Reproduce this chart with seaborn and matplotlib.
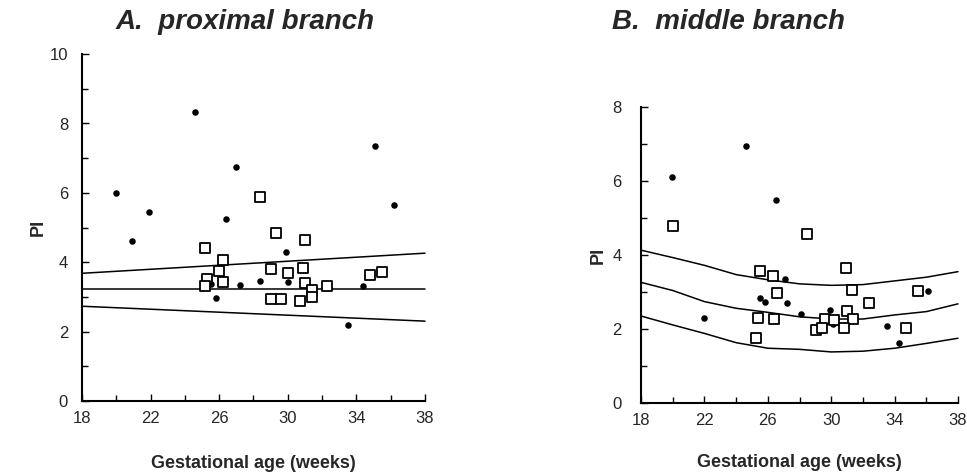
import numpy as np
import pandas as pd
import seaborn as sns
import matplotlib.pyplot as plt
from matplotlib.ticker import FixedLocator

# --- données ---
# A. branche proximale : points pleins
a_dot_x = [20.0, 20.9, 21.9, 24.6, 27.0, 26.4, 29.9, 36.2, 28.4, 30.0, 27.2, 25.5, 25.8, 33.5, 34.4, 35.1]
a_dot_y = [6.0, 4.6, 5.45, 8.33, 6.74, 5.25, 4.3, 5.66, 3.47, 3.42, 3.34, 3.37, 2.98, 2.19, 3.3, 7.35]
# A. carrés vides
a_sq_x = [28.4, 29.3, 31.0, 25.2, 26.2, 26.0, 29.0, 30.0, 30.9, 34.8, 35.5, 25.3, 25.15,
          26.2, 31.0, 31.4, 31.4, 32.3, 29.0, 29.6, 30.7]
a_sq_y = [5.87, 4.85, 4.63, 4.41, 4.05, 3.75, 3.79, 3.7, 3.83, 3.63, 3.72, 3.52, 3.31,
          3.43, 3.41, 3.21, 3.0, 3.32, 2.95, 2.95, 2.87]
# A. droites de référence (aux semaines 18 et 38)
a_line_x = [18, 38]
a_upper = [3.68, 4.26]
a_mid = [3.24, 3.24]
a_lower = [2.73, 2.3]

# B. branche moyenne : points pleins
b_dot_x = [19.95, 24.6, 26.5, 21.95, 27.1, 25.5, 25.8, 27.2, 28.1, 29.9, 30.1, 31.4, 33.5, 34.3, 36.1]
b_dot_y = [6.12, 6.95, 5.5, 2.31, 3.35, 2.85, 2.72, 2.7, 2.4, 2.52, 2.13, 2.31, 2.08, 1.63, 3.03]
# B. carrés vides
b_sq_x = [20.0, 28.5, 30.9, 25.5, 26.3, 26.6, 31.3, 32.4, 35.5, 25.4, 26.4, 25.25,
          31.0, 31.4, 29.6, 30.15, 29.05, 29.4, 30.8, 34.7]
b_sq_y = [4.78, 4.58, 3.64, 3.58, 3.43, 2.97, 3.06, 2.69, 3.03, 2.31, 2.27, 1.76,
          2.49, 2.26, 2.26, 2.24, 1.97, 2.03, 2.03, 2.04]
# B. courbes de référence
b_curve_x = [18, 20, 22, 24, 26, 28, 30, 32, 34, 36, 38]
b_upper = [4.13, 3.93, 3.72, 3.47, 3.33, 3.22, 3.18, 3.2, 3.3, 3.4, 3.55]
b_mid = [3.26, 3.04, 2.74, 2.56, 2.45, 2.33, 2.27, 2.27, 2.38, 2.47, 2.68]
b_lower = [2.35, 2.11, 1.88, 1.63, 1.48, 1.45, 1.38, 1.40, 1.48, 1.61, 1.75]

# graduations
x_major = [18, 22, 26, 30, 34, 38]
x_minor = [20, 24, 28, 32, 36]

sns.set_style("ticks")
plt.rcParams["font.family"] = ["Liberation Sans", "DejaVu Sans"]

fig = plt.figure(figsize=(9.67, 4.75), dpi=100)
ax1 = fig.add_axes([0.0848, 0.156, 0.3547, 0.730])
ax2 = fig.add_axes([0.663, 0.1516, 0.3277, 0.6231])


def draw_panel(ax, dx, dy, sx, sy, lx, lines, ymax):
    for ly in lines:
        sns.lineplot(x=lx, y=ly, ax=ax, color="black", lw=1.1, clip_on=False)
    sns.scatterplot(x=dx, y=dy, ax=ax, marker="o", s=22, color="black",
                    edgecolor="black", linewidth=0, clip_on=False, zorder=3)
    sns.scatterplot(x=sx, y=sy, ax=ax, marker="s", s=60, facecolor="white",
                    edgecolor="black", linewidth=1.3, clip_on=False, zorder=4)
    ax.set_xlim(18, 38)
    ax.set_ylim(0, ymax)
    ax.xaxis.set_major_locator(FixedLocator(x_major))
    ax.xaxis.set_minor_locator(FixedLocator(x_minor))
    ax.yaxis.set_major_locator(FixedLocator(list(range(0, ymax + 1, 2))))
    ax.yaxis.set_minor_locator(FixedLocator(list(range(1, ymax, 2))))
    ax.tick_params(which="both", direction="in", color="black", width=1)
    ax.tick_params(which="major", length=5, labelsize=12)
    ax.tick_params(which="minor", length=4)
    ax.tick_params(axis="x", pad=7)
    ax.tick_params(axis="y", pad=10)
    for side in ["top", "right"]:
        ax.spines[side].set_visible(False)
    for side in ["left", "bottom"]:
        ax.spines[side].set_linewidth(1.5)
        ax.spines[side].set_color("black")
    ax.set_xlabel("Gestational age (weeks)", fontsize=13, fontweight="bold", labelpad=21)
    ax.set_ylabel("PI", fontsize=13, fontweight="bold", labelpad=2)


draw_panel(ax1, a_dot_x, a_dot_y, a_sq_x, a_sq_y, a_line_x, [a_upper, a_mid, a_lower], 10)
draw_panel(ax2, b_dot_x, b_dot_y, b_sq_x, b_sq_y, b_curve_x, [b_upper, b_mid, b_lower], 8)
ax2.tick_params(axis="y", pad=14)
ax2.set_xlabel("Gestational age (weeks)", fontsize=13, fontweight="bold", labelpad=19)
ax2.set_ylabel("PI", fontsize=13, fontweight="bold", labelpad=4)

fig.text(0.253, 0.953, "A.  proximal branch", ha="center", va="center",
         fontsize=20, fontweight="bold", fontstyle="italic")
fig.text(0.753, 0.953, "B.  middle branch", ha="center", va="center",
         fontsize=20, fontweight="bold", fontstyle="italic")

fig.savefig("out.png", dpi=100)
